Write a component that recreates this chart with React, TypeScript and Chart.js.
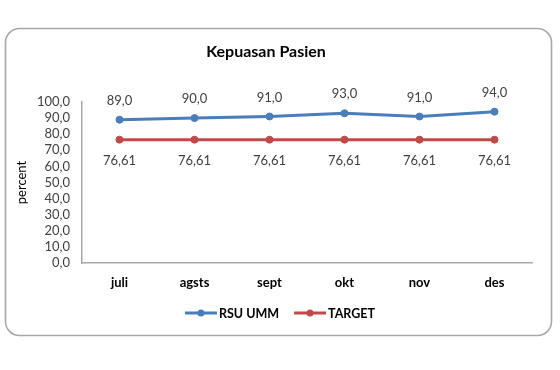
import { useEffect, useRef } from "react";
import { Chart, registerables } from "chart.js";

Chart.register(...registerables);

const categories = ["juli", "agsts", "sept", "okt", "nov", "des"];
const rsuUmm = [89.0, 90.0, 91.0, 93.0, 91.0, 94.0];
const target = [76.61, 76.61, 76.61, 76.61, 76.61, 76.61];
const yTicks = [0, 10, 20, 30, 40, 50, 60, 70, 80, 90, 100];
const seriesNames = ["RSU UMM", "TARGET"];
const seriesColors = ["#4a7ebb", "#be4b48"];
const labelDecimals = [1, 2];
const titleText = "Kepuasan Pasien";
const yTitle = "percent";

const FONT = "Lato, 'Open Sans', sans-serif";

const fmt = (v: number, d: number) => v.toFixed(d).replace(".", ",");

const framePlugin = {
  id: "frame",
  beforeDraw(chart: any) {
    const ctx = chart.ctx;
    ctx.save();
    ctx.fillStyle = "#ffffff";
    ctx.fillRect(0, 0, chart.width, chart.height);
    ctx.strokeStyle = "#a8a8a8";
    ctx.lineWidth = 1.6;
    ctx.beginPath();
    (ctx as any).roundRect(5.5, 28.5, 546, 307, 14);
    ctx.stroke();
    ctx.restore();
  },
};

const dataLabelPlugin = {
  id: "dataLabels",
  afterDatasetsDraw(chart: any) {
    const ctx = chart.ctx;
    ctx.save();
    ctx.font = `13px ${FONT}`;
    ctx.fillStyle = "#404040";
    ctx.textAlign = "center";
    ctx.textBaseline = "middle";
    chart.data.datasets.forEach((ds: any, i: number) => {
      const meta = chart.getDatasetMeta(i);
      meta.data.forEach((pt: any, j: number) => {
        const v = ds.data[j];
        const dy = i === 0 ? -19 : 21;
        ctx.fillText(fmt(v, labelDecimals[i]), pt.x, pt.y + dy);
      });
    });
    ctx.restore();
  },
};

const legendPlugin = {
  id: "customLegend",
  afterDraw(chart: any) {
    const ctx = chart.ctx;
    ctx.save();
    ctx.font = `bold 12.5px ${FONT}`;
    const markerW = 32;
    const gap = 2;
    const spacing = 15;
    const widths = seriesNames.map((n) => ctx.measureText(n).width);
    const total =
      widths.reduce((a, b) => a + b, 0) +
      seriesNames.length * (markerW + gap) +
      (seriesNames.length - 1) * spacing;
    let x = chart.width / 2 - total / 2;
    const y = 313;
    seriesNames.forEach((n, i) => {
      ctx.strokeStyle = seriesColors[i];
      ctx.lineWidth = 3;
      ctx.beginPath();
      ctx.moveTo(x, y);
      ctx.lineTo(x + markerW, y);
      ctx.stroke();
      ctx.fillStyle = seriesColors[i];
      ctx.beginPath();
      ctx.arc(x + markerW / 2, y, 3.5, 0, Math.PI * 2);
      ctx.fill();
      x += markerW + gap;
      ctx.fillStyle = "#000000";
      ctx.textAlign = "left";
      ctx.textBaseline = "middle";
      ctx.fillText(n, x, y + 0.5);
      x += widths[i] + spacing;
    });
    ctx.restore();
  },
};

export default function App() {
  const ref = useRef<HTMLCanvasElement | null>(null);

  useEffect(() => {
    if (!ref.current) return;
    const chart = new Chart(ref.current, {
      type: "line",
      data: {
        labels: categories,
        datasets: [rsuUmm, target].map((d, i) => ({
          label: seriesNames[i],
          data: d,
          borderColor: seriesColors[i],
          backgroundColor: seriesColors[i],
          pointBackgroundColor: seriesColors[i],
          pointBorderColor: seriesColors[i],
          borderWidth: 3,
          pointRadius: 3.5,
          pointBorderWidth: 1,
          tension: 0,
          fill: false,
        })),
      },
      options: {
        responsive: false,
        animation: false,
        devicePixelRatio: 1,
        layout: { padding: { left: 0, right: 28, top: 28, bottom: 77 } },
        plugins: {
          legend: { display: false },
          tooltip: { enabled: false },
          title: {
            display: true,
            text: titleText,
            color: "#000000",
            font: { family: FONT, size: 16, weight: "bold", lineHeight: 1.2 },
            padding: { top: 14.4, bottom: 40.4 },
          },
        },
        scales: {
          x: {
            type: "category",
            offset: true,
            grid: { display: false, drawTicks: false },
            border: { display: true, color: "#a8a8a8", width: 1.5 },
            ticks: {
              color: "#000000",
              padding: 12,
              font: { family: FONT, size: 13, weight: "bold" },
              maxRotation: 0,
              autoSkip: false,
            },
            afterFit: (s: any) => {
              s.height = 30;
            },
          },
          y: {
            min: 0,
            max: 100,
            grid: { display: false, drawTicks: false },
            border: { display: true, color: "#a8a8a8", width: 1.5 },
            afterBuildTicks: (s: any) => {
              s.ticks = yTicks.map((v) => ({ value: v }));
            },
            ticks: {
              color: "#404040",
              padding: 12,
              autoSkip: false,
              font: { family: FONT, size: 13 },
              callback: (v: any) => fmt(Number(v), 1),
            },
            title: {
              display: true,
              text: yTitle,
              color: "#000000",
              font: { family: FONT, size: 13, lineHeight: 1.2 },
              padding: { top: 14.5, bottom: 0 },
            },
            afterFit: (s: any) => {
              s.width = 82;
            },
          },
        },
      },
      plugins: [framePlugin, dataLabelPlugin, legendPlugin],
    });
    return () => chart.destroy();
  }, []);

  return (
    <div style={{ position: "absolute", left: 0, top: 0, width: 560, height: 370 }}>
      <canvas ref={ref} width={560} height={370} />
    </div>
  );
}
